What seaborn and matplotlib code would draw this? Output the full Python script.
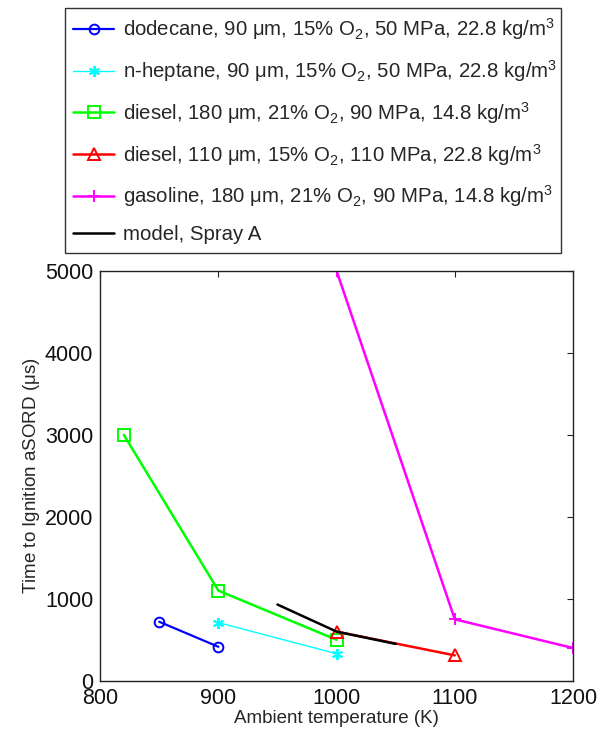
import numpy as np
import matplotlib.pyplot as plt
import pandas as pd
import seaborn as sns

# Ignition delay vs ambient temperature

# data
dodecane_T = [850, 900]
dodecane_t = [720, 415]

heptane_T = [900, 1000]
heptane_t = [710, 330]

diesel180_T = [820, 900, 1000]
diesel180_t = [3000, 1100, 500]

diesel110_T = [1000, 1100]
diesel110_t = [600, 310]

gasoline_T = [1000, 1100, 1200]
gasoline_t = [5000, 750, 400]

model_T = [950, 1000, 1050]
model_t = [930, 600, 450]

labels = [
    r"dodecane, 90 $\mu$m, 15% O$_2$, 50 MPa, 22.8 kg/m$^3$",
    r"n-heptane, 90 $\mu$m, 15% O$_2$, 50 MPa, 22.8 kg/m$^3$",
    r"diesel, 180 $\mu$m, 21% O$_2$, 90 MPa, 14.8 kg/m$^3$",
    r"diesel, 110 $\mu$m, 15% O$_2$, 110 MPa, 22.8 kg/m$^3$",
    r"gasoline, 180 $\mu$m, 21% O$_2$, 90 MPa, 14.8 kg/m$^3$",
    "model, Spray A",
]

sns.set_style("white")
plt.rcParams['font.family'] = ['Liberation Sans', 'DejaVu Sans']
plt.rcParams['mathtext.fontset'] = 'custom'
plt.rcParams['mathtext.rm'] = 'Liberation Sans'
plt.rcParams['mathtext.it'] = 'Liberation Sans'
plt.rcParams['mathtext.default'] = 'regular'

fig = plt.figure(figsize=(6.07, 7.36), dpi=100)
ax = fig.add_axes([0.165, 0.075, 0.779, 0.557])

series = [
    (dodecane_T, dodecane_t, "#0000ff", "o", 1.6, 7),
    (heptane_T, heptane_t, "#00ffff", (6, 2, 0), 1.0, 8),
    (diesel180_T, diesel180_t, "#00ff00", "s", 1.8, 8),
    (diesel110_T, diesel110_t, "#ff0000", "^", 1.8, 9),
    (gasoline_T, gasoline_t, "#ff00ff", "+", 1.8, 9),
    (model_T, model_t, "#000000", None, 1.8, 0),
]

for (x, y, c, m, lw, ms), lab in zip(series, labels):
    sns.lineplot(x=x, y=y, ax=ax, color=c, marker=m, lw=lw, markersize=ms,
                 markerfacecolor="none", markeredgecolor=c, markeredgewidth=1.4,
                 label=lab, sort=False, legend=False)

ax.set_xlim(800, 1200)
ax.set_ylim(0, 5000)
ax.set_xticks([800, 900, 1000, 1100, 1200])
ax.set_yticks([0, 1000, 2000, 3000, 4000, 5000])
ax.tick_params(direction="in", top=True, right=True, labelsize=15.5, length=4,
               color="#222222", labelcolor="#111111", pad=5)
for s in ax.spines.values():
    s.set_color("#222222")
    s.set_linewidth(1)
ax.set_xlabel("Ambient temperature (K)", fontsize=13.5, labelpad=1)
ax.set_ylabel(r"Time to Ignition aSORD ($\mu$s)", fontsize=13.5, labelpad=2)

h, l = ax.get_legend_handles_labels()
leg = fig.legend(h, l, loc="upper left", bbox_to_anchor=(0.107, 0.663, 0.818, 0.326),
                 mode="expand", fontsize=14.7, handlelength=2.0, handletextpad=0.45,
                 borderaxespad=0, labelspacing=0.78, fancybox=False, frameon=True,
                 borderpad=0.4)
leg.get_frame().set_edgecolor("black")
leg.get_frame().set_linewidth(1)

fig.savefig("out.png", dpi=100)
